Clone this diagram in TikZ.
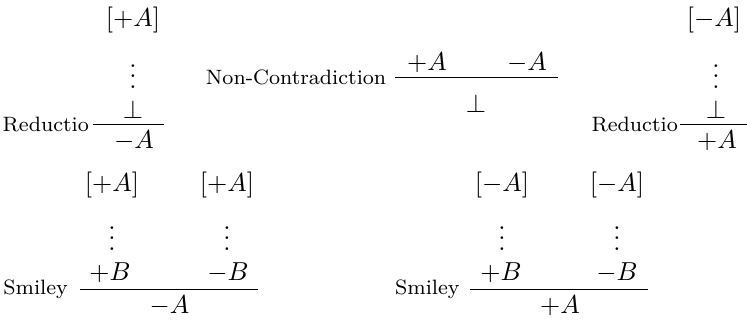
\documentclass[tikz,border=0pt]{standalone}
\usepackage{amsmath, amssymb}
\usepackage{tikz}
\usetikzlibrary{positioning}

\tikzset{
  fml/.style={inner sep=0pt, anchor=base},
  rulelabel/.style={inner sep=0pt, font=\footnotesize},
  infline/.style={line width=0.4pt}
}

\begin{document}
\begin{tikzpicture}[x=0.385pt, y=-0.385pt]
\useasboundingbox (0,0) rectangle (747,320);

% Reductio, left
\node[fml] (redl-hyp) at (133,26.5) {$[+A]$};
\node[fml] (redl-dots) at (133,88) {$\vdots$};
\node[fml] (redl-bot) at (133,118) {$\bot$};
\coordinate (redl-l) at (93,124.5);
\coordinate (redl-r) at (164,124.5);
\draw[infline] (redl-l) -- (redl-r);
\node[fml] (redl-concl) at (134,148.5) {$-A$};
\node[rulelabel, left=1.4pt of redl-l] (redl-name) {Reductio};

% Non-Contradiction
\node[fml] (nc-pos) at (427,70.5) {$+A$};
\node[fml] (nc-neg) at (527,70.5) {$-A$};
\coordinate (nc-l) at (395,77.7);
\coordinate (nc-r) at (558,77.7);
\draw[infline] (nc-l) -- (nc-r);
\node[fml] (nc-concl) at (476,112) {$\bot$};
\node[rulelabel, left=3.2pt of nc-l] (nc-name) {Non-Contradiction};

% Reductio, right
\node[fml] (redr-hyp) at (714,26.5) {$[-A]$};
\node[fml] (redr-dots) at (716,88) {$\vdots$};
\node[fml] (redr-bot) at (716,118) {$\bot$};
\coordinate (redr-l) at (680,124.5);
\coordinate (redr-r) at (747,124.5);
\draw[infline] (redr-l) -- (redr-r);
\node[fml] (redr-concl) at (717,148.5) {$+A$};
\node[rulelabel, left=0.65pt of redr-l] (redr-name) {Reductio};

% Smiley, left
\node[fml] (sml-hyp1) at (112,191.5) {$[+A]$};
\node[fml] (sml-hyp2) at (227,191.5) {$[+A]$};
\node[fml] (sml-dots1) at (112,250) {$\vdots$};
\node[fml] (sml-dots2) at (227,250) {$\vdots$};
\node[fml] (sml-pos) at (110,280) {$+B$};
\node[fml] (sml-neg) at (228,280) {$-B$};
\coordinate (sml-l) at (80,289.5);
\coordinate (sml-r) at (258,289.5);
\draw[infline] (sml-l) -- (sml-r);
\node[fml] (sml-concl) at (169.5,313) {$-A$};
\node[rulelabel, left=4.5pt of sml-l] (sml-name) {Smiley};

% Smiley, right
\node[fml] (smr-hyp1) at (502,191.5) {$[-A]$};
\node[fml] (smr-hyp2) at (617,191.5) {$[-A]$};
\node[fml] (smr-dots1) at (502,250) {$\vdots$};
\node[fml] (smr-dots2) at (617,250) {$\vdots$};
\node[fml] (smr-pos) at (501,280) {$+B$};
\node[fml] (smr-neg) at (617,280) {$-B$};
\coordinate (smr-l) at (470,289.5);
\coordinate (smr-r) at (648,289.5);
\draw[infline] (smr-l) -- (smr-r);
\node[fml] (smr-concl) at (560,313) {$+A$};
\node[rulelabel, left=3.85pt of smr-l] (smr-name) {Smiley};
\end{tikzpicture}
\end{document}
